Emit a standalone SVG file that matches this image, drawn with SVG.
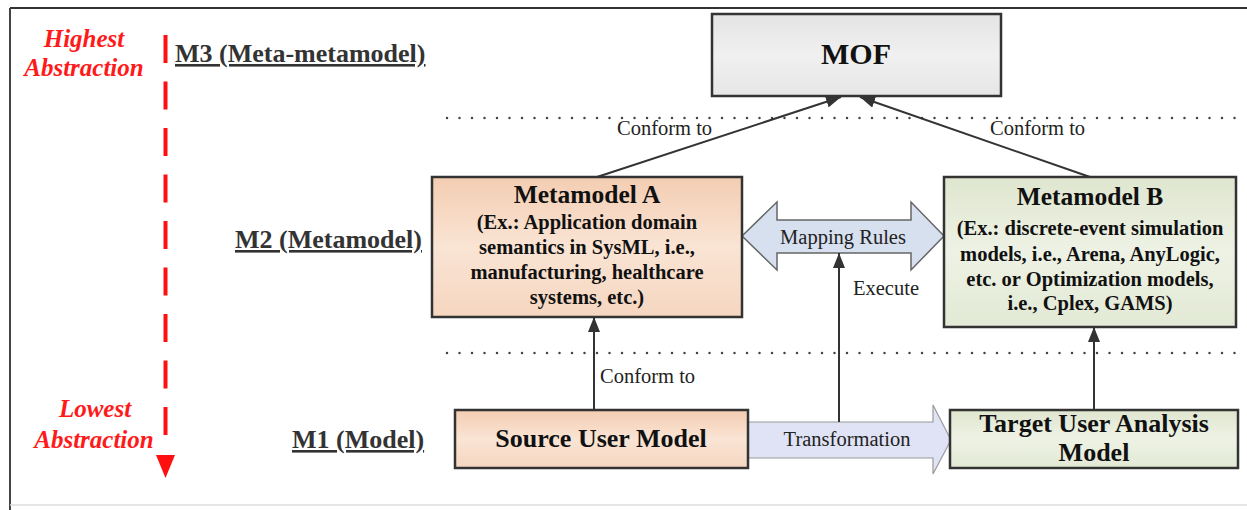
<svg xmlns="http://www.w3.org/2000/svg" width="1247" height="510" viewBox="0 0 1247 510">
<defs>
<linearGradient id="peach" x1="0" y1="0" x2="0" y2="1">
<stop offset="0" stop-color="#f3cdb2"/><stop offset="0.5" stop-color="#fae4d4"/><stop offset="1" stop-color="#f5d6c0"/>
</linearGradient>
<linearGradient id="green" x1="0" y1="0" x2="0" y2="1">
<stop offset="0" stop-color="#dfe6cf"/><stop offset="0.5" stop-color="#eef2e5"/><stop offset="1" stop-color="#e2e9d4"/>
</linearGradient>
<linearGradient id="gray" x1="0" y1="0" x2="0" y2="1">
<stop offset="0" stop-color="#e4e4e4"/><stop offset="0.5" stop-color="#f0f0f0"/><stop offset="1" stop-color="#e6e6e6"/>
</linearGradient>
<marker id="ah" markerUnits="userSpaceOnUse" markerWidth="16" markerHeight="12" refX="15" refY="6" orient="auto">
<path d="M0,0 L15,6 L0,12 Z" fill="#333"/>
</marker>
</defs>
<style>
.box{stroke:#333;stroke-width:2.5}
.t{font-family:"Liberation Serif","Times New Roman",serif;fill:#111;text-anchor:middle}
.b{font-weight:bold}
.lvl{font-family:"Liberation Serif","Times New Roman",serif;font-weight:bold;font-size:26px;fill:#333;text-decoration:underline}
.red{font-family:"Liberation Serif","Times New Roman",serif;font-weight:bold;font-style:italic;font-size:25px;fill:#ff1a1a;text-anchor:middle}
.lbl{font-family:"Liberation Serif","Times New Roman",serif;font-size:20.5px;fill:#222}
.conn{stroke:#333;stroke-width:2;fill:none}
.dot{stroke:#444;stroke-width:2.5;stroke-linecap:round;stroke-dasharray:0 12.5;fill:none}
</style>
<rect x="0" y="0" width="1247" height="510" fill="#fff"/>
<g id="frame">
<line x1="10" y1="8" x2="1247" y2="8" stroke="#333" stroke-width="2"/>
<line x1="10" y1="8" x2="10" y2="510" stroke="#444" stroke-width="2"/>
<line x1="10" y1="505" x2="1247" y2="505" stroke="#ddd" stroke-width="1.5"/>
</g>
<g id="abstraction-axis">
<line x1="165.5" y1="35" x2="165.5" y2="440" stroke="#ff1010" stroke-width="4" stroke-dasharray="28 18.5"/>
<path d="M156,455 L175,455 L165.5,478 Z" fill="#ff1010"/>
<text class="red" x="84" y="47">Highest</text>
<text class="red" x="84" y="76">Abstraction</text>
<text class="red" x="95" y="417">Lowest</text>
<text class="red" x="94" y="448">Abstraction</text>
</g>
<g id="levels">
<text class="lvl" x="175" y="62">M3 (Meta-metamodel)</text>
<text class="lvl" x="235" y="248">M2 (Metamodel)</text>
<text class="lvl" x="292" y="448">M1 (Model)</text>
<line class="dot" x1="447" y1="118" x2="1240" y2="118"/>
<line class="dot" x1="447" y1="353" x2="1240" y2="353"/>
</g>
<g id="connectors">
<line class="conn" x1="597" y1="177" x2="841" y2="97" marker-end="url(#ah)"/>
<line class="conn" x1="1090" y1="177" x2="860" y2="97" marker-end="url(#ah)"/>
<text class="lbl" x="617" y="135">Conform to</text>
<text class="lbl" x="990" y="135">Conform to</text>
<line class="conn" x1="594" y1="410" x2="594" y2="317" marker-end="url(#ah)"/>
<text class="lbl" x="600" y="383">Conform to</text>
<line class="conn" x1="1094" y1="410" x2="1094" y2="327" marker-end="url(#ah)"/>
<path d="M742,236 L777,202 L777,220 L911,220 L911,202 L944,236 L911,270 L911,253 L777,253 L777,270 Z" fill="#d6e0ef" stroke="#666" stroke-width="1.5"/>
<text class="lbl" x="843" y="244" text-anchor="middle">Mapping Rules</text>
<path d="M748,422 L933,422 L933,405 L951,440 L933,474 L933,458 L748,458 Z" fill="#dfe3f5" stroke="#9a9a9a" stroke-width="1.2"/>
<text class="lbl" x="847" y="446" text-anchor="middle">Transformation</text>
<line class="conn" x1="839" y1="422" x2="839" y2="253" marker-end="url(#ah)"/>
<text class="lbl" x="853" y="295">Execute</text>
</g>
<g id="mof">
<rect class="box" x="712" y="14" width="289" height="82" fill="url(#gray)"/>
<text class="t b" x="856" y="64" font-size="30">MOF</text>
</g>
<g id="metamodel-a">
<rect class="box" x="432" y="177" width="310" height="140" fill="url(#peach)"/>
<text class="t b" x="587" y="203" font-size="25.5">Metamodel A</text>
<text class="t b" x="587" y="229" font-size="20.5">(Ex.: Application domain</text>
<text class="t b" x="587" y="254" font-size="20.5">semantics in SysML, i.e.,</text>
<text class="t b" x="587" y="279" font-size="20.5">manufacturing, healthcare</text>
<text class="t b" x="587" y="304" font-size="20.5">systems, etc.)</text>
</g>
<g id="metamodel-b">
<rect class="box" x="944" y="177" width="292" height="150" fill="url(#green)"/>
<text class="t b" x="1090" y="205" font-size="25.5">Metamodel B</text>
<text class="t b" x="1090" y="235" font-size="20.5">(Ex.: discrete-event simulation</text>
<text class="t b" x="1090" y="261" font-size="20.5">models, i.e., Arena, AnyLogic,</text>
<text class="t b" x="1090" y="286" font-size="20.5">etc. or Optimization models,</text>
<text class="t b" x="1090" y="310" font-size="20.5">i.e., Cplex, GAMS)</text>
</g>
<g id="source-user-model">
<rect class="box" x="455" y="410" width="293" height="58" fill="url(#peach)"/>
<text class="t b" x="601" y="447" font-size="26">Source User Model</text>
</g>
<g id="target-user-analysis-model">
<rect class="box" x="950" y="410" width="288" height="58" fill="url(#green)"/>
<text class="t b" x="1094" y="432" font-size="26">Target User Analysis</text>
<text class="t b" x="1094" y="461" font-size="26">Model</text>
</g>
</svg>
